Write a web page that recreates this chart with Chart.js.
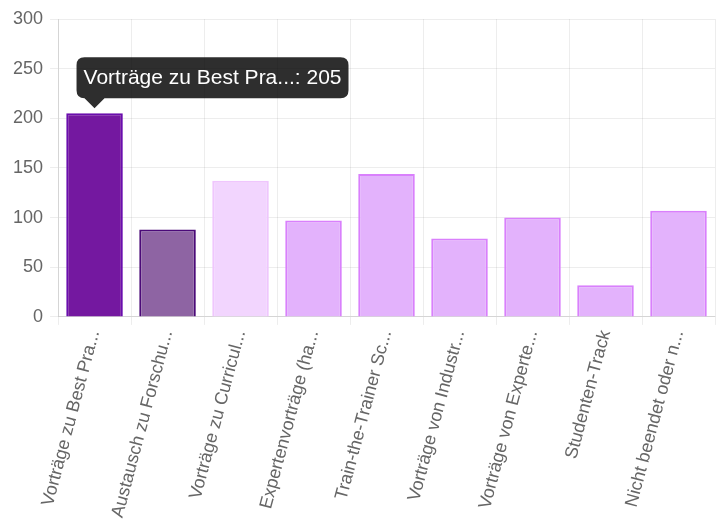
<!DOCTYPE html>
<html lang="de">
<head>
<meta charset="utf-8">
<title>Sessions</title>
<script src="https://cdn.jsdelivr.net/npm/chart.js@4/dist/chart.umd.min.js"></script>
<style>
    html, body { margin: 0; padding: 0; background: #fff; }
    .chart-box { width: 718px; height: 523px; position: relative; }
</style>
</head>
<body>
<div class="chart-box">
    <canvas id="sessionChart"></canvas>
</div>
<script>
// 1. Data
const categories = [
    'Vorträge zu Best Pra...',
    'Austausch zu Forschu...',
    'Vorträge zu Curricul...',
    'Expertenvorträge (ha...',
    'Train-the-Trainer Sc...',
    'Vorträge von Industr...',
    'Vorträge von Experte...',
    'Studenten-Track',
    'Nicht beendet oder n...'
];
const votes = [205, 88, 137, 97, 144, 79, 100, 32, 107];
const yTicks = [0, 50, 100, 150, 200, 250, 300];

const fillColors = ['#7418a0', '#8e64a3', '#f2d5fe', '#e3b2fc', '#e3b2fc', '#e3b2fc', '#e3b2fc', '#e3b2fc', '#e3b2fc'];
const lineColors = ['#6a0dad', '#4b0a78', '#efc6fd', '#d980fc', '#d980fc', '#d980fc', '#d980fc', '#d980fc', '#d980fc'];

// 2. Chart
Chart.defaults.font.family = '"Liberation Sans", Arial, sans-serif';
Chart.defaults.color = '#666';

const ctx = document.getElementById('sessionChart').getContext('2d');
const sessionChart = new Chart(ctx, {
    type: 'bar',
    data: {
        labels: categories,
        datasets: [{
            label: 'Stimmen',
            data: votes,
            backgroundColor: fillColors,
            borderColor: lineColors,
            hoverBackgroundColor: fillColors,
            hoverBorderColor: lineColors,
            borderWidth: 2,
            barPercentage: 1,
            categoryPercentage: 0.775
        }]
    },
    options: {
        responsive: true,
        maintainAspectRatio: false,
        animation: false,
        events: [],
        layout: {
            padding: { left: 6, right: 3, top: 19, bottom: 0 }
        },
        plugins: {
            legend: { display: false },
            tooltip: {
                yAlign: 'bottom',
                xAlign: 'left',
                displayColors: false,
                backgroundColor: 'rgba(0,0,0,0.82)',
                bodyFont: { size: 21 },
                padding: { x: 7, y: 8 },
                caretSize: 10,
                caretPadding: 5,
                cornerRadius: 8,
                callbacks: {
                    title: () => [],
                    label: (item) => item.label + ': ' + item.parsed.y
                }
            }
        },
        scales: {
            y: {
                min: 0,
                max: 300,
                afterBuildTicks: (axis) => {
                    axis.ticks = yTicks.map(v => ({ value: v }));
                },
                grid: { color: 'rgba(0,0,0,0.07)' },
                border: { color: 'rgba(0,0,0,0.1)' },
                ticks: {
                    padding: 7,
                    font: { size: 18 }
                }
            },
            x: {
                grid: { color: 'rgba(0,0,0,0.07)', offset: true },
                border: { color: 'rgba(0,0,0,0.1)' },
                ticks: {
                    minRotation: 75,
                    maxRotation: 75,
                    autoSkip: false,
                    font: { size: 18 }
                }
            }
        }
    }
});

// 3. Show tooltip on the first bar, like the screenshot
sessionChart.tooltip.setActiveElements([{ datasetIndex: 0, index: 0 }], { x: 0, y: 0 });
sessionChart.update();
</script>
</body>
</html>
